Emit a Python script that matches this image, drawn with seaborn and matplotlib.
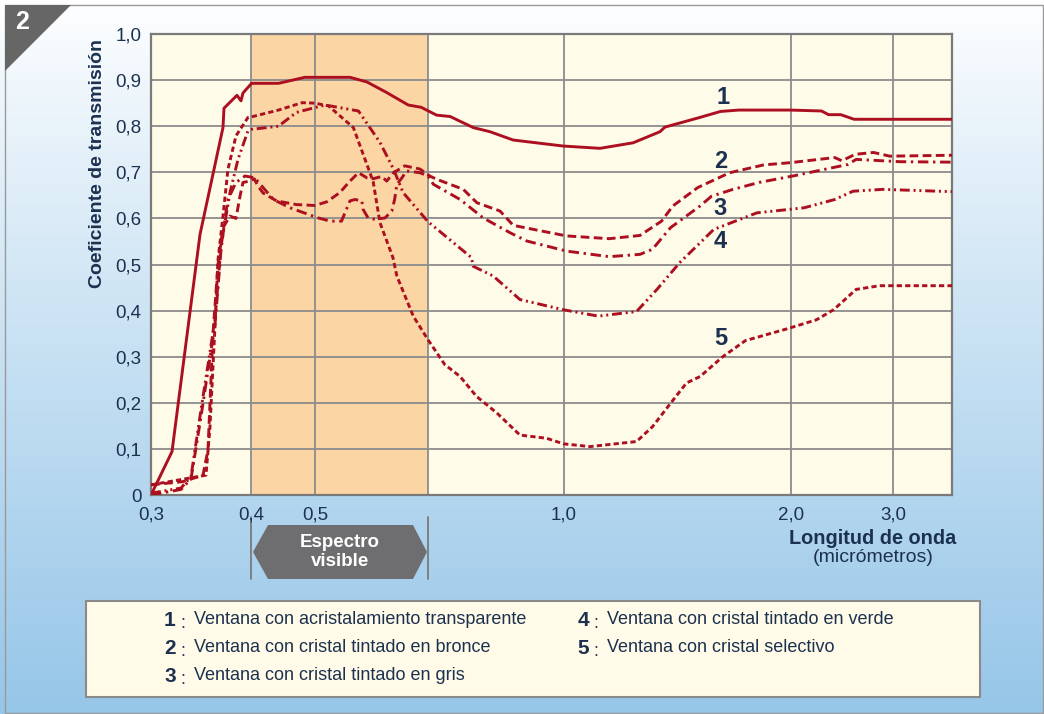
import numpy as np
import pandas as pd
import matplotlib
matplotlib.use("Agg")
import matplotlib.pyplot as plt
import seaborn as sns
from matplotlib.patches import Polygon, Rectangle

# ---- data: wavelength (micrometres) and transmission coefficient ----
wl1 = [0.30, 0.321, 0.349, 0.372, 0.373, 0.386, 0.390, 0.392, 0.401, 0.443, 0.484,
       0.562, 0.592, 0.627, 0.665, 0.688, 0.719, 0.749, 0.80, 0.837, 0.888, 0.998,
       1.159, 1.305, 1.423, 1.445, 1.599, 1.69, 1.77, 1.996, 2.30, 2.37, 2.49, 2.62, 3.58]
t1 = [0.0, 0.094, 0.565, 0.797, 0.839, 0.867, 0.855, 0.872, 0.893, 0.893, 0.906,
      0.906, 0.896, 0.873, 0.846, 0.841, 0.824, 0.821, 0.797, 0.788, 0.770, 0.757,
      0.752, 0.764, 0.788, 0.798, 0.819, 0.832, 0.835, 0.835, 0.833, 0.825, 0.825, 0.815, 0.815]

wl2 = [0.30, 0.332, 0.352, 0.357, 0.362, 0.367, 0.372, 0.379, 0.385, 0.389, 0.392,
       0.399, 0.405, 0.411, 0.419, 0.440, 0.471, 0.50, 0.521, 0.544, 0.562, 0.577,
       0.592, 0.603, 0.618, 0.627, 0.639, 0.659, 0.686, 0.704, 0.719, 0.778, 0.808,
       0.859, 0.888, 0.954, 1.012, 1.20, 1.335, 1.43, 1.48, 1.59, 1.73, 1.88, 2.0,
       2.43, 2.50, 2.63, 2.81, 2.97, 3.58]
t2 = [0.022, 0.029, 0.043, 0.098, 0.35, 0.50, 0.58, 0.605, 0.60, 0.648, 0.678,
      0.681, 0.686, 0.670, 0.655, 0.638, 0.630, 0.628, 0.636, 0.656, 0.681, 0.699,
      0.688, 0.686, 0.691, 0.681, 0.699, 0.714, 0.707, 0.692, 0.685, 0.663, 0.634,
      0.616, 0.585, 0.572, 0.562, 0.556, 0.563, 0.594, 0.627, 0.667, 0.699, 0.716, 0.721,
      0.732, 0.725, 0.739, 0.743, 0.735, 0.737]

wl3 = [0.30, 0.33, 0.34, 0.35, 0.364, 0.37, 0.374, 0.377, 0.385, 0.394, 0.406,
       0.417, 0.435, 0.461, 0.489, 0.506, 0.527, 0.547, 0.553, 0.562, 0.571, 0.583,
       0.585, 0.594, 0.606, 0.624, 0.636, 0.641, 0.645, 0.654, 0.662, 0.686, 0.70,
       0.712, 0.771, 0.822, 0.881, 0.918, 1.012, 1.20, 1.335, 1.39, 1.47, 1.60, 1.65,
       1.745, 1.86, 2.02, 2.56, 2.64, 3.07, 3.58]
t3 = [0.0, 0.012, 0.035, 0.17, 0.37, 0.53, 0.60, 0.641, 0.678, 0.692, 0.688,
      0.670, 0.641, 0.623, 0.609, 0.601, 0.594, 0.594, 0.612, 0.638, 0.641, 0.638,
      0.620, 0.601, 0.598, 0.601, 0.616, 0.641, 0.674, 0.688, 0.703, 0.699, 0.692,
      0.674, 0.641, 0.601, 0.569, 0.551, 0.529, 0.517, 0.522, 0.533, 0.58, 0.627, 0.648,
      0.663, 0.678, 0.692, 0.717, 0.728, 0.723, 0.722]

wl4 = [0.30, 0.33, 0.34, 0.35, 0.364, 0.37, 0.379, 0.387, 0.397, 0.40, 0.443, 0.471,
       0.518, 0.577, 0.615, 0.639, 0.656, 0.70, 0.796, 0.80, 0.844, 0.903, 0.998,
       1.152, 1.32, 1.41, 1.51, 1.60, 1.66, 1.85, 2.13, 2.43, 2.61, 2.90, 3.58]
t4 = [0.004, 0.015, 0.04, 0.185, 0.38, 0.54, 0.656, 0.728, 0.79, 0.793, 0.80, 0.83,
      0.846, 0.833, 0.765, 0.707, 0.656, 0.593, 0.515, 0.496, 0.475, 0.424, 0.402,
      0.388, 0.398, 0.446, 0.504, 0.547, 0.576, 0.612, 0.623, 0.641, 0.659, 0.663, 0.658]

wl5 = [0.30, 0.355, 0.359, 0.364, 0.367, 0.372, 0.377, 0.385, 0.397, 0.40, 0.443,
       0.48, 0.50, 0.524, 0.568, 0.603, 0.615, 0.638, 0.645, 0.674, 0.70, 0.737,
       0.771, 0.807, 0.852, 0.903, 0.962, 0.999, 1.115, 1.32, 1.39, 1.47, 1.54, 1.60,
       1.70, 1.80, 1.98, 2.25, 2.42, 2.64, 2.87, 3.58]
t5 = [0.022, 0.043, 0.148, 0.366, 0.51, 0.605, 0.707, 0.779, 0.819, 0.82, 0.835,
      0.851, 0.85, 0.844, 0.797, 0.68, 0.591, 0.515, 0.475, 0.388, 0.337, 0.283,
      0.257, 0.214, 0.178, 0.13, 0.123, 0.111, 0.105, 0.116, 0.148, 0.199, 0.243, 0.257,
      0.30, 0.335, 0.36, 0.38, 0.402, 0.446, 0.454, 0.454]

curve_ids = ["1", "2", "3", "4", "5"]
curve_names = [
    "Ventana con acristalamiento transparente",
    "Ventana con cristal tintado en bronce",
    "Ventana con cristal tintado en gris",
    "Ventana con cristal tintado en verde",
    "Ventana con cristal selectivo",
]
x_ticks = [0.3, 0.4, 0.5, 1.0, 2.0, 3.0]
x_tick_labels = ["0,3", "0,4", "0,5", "1,0", "2,0", "3,0"]
y_ticks = [0, 0.1, 0.2, 0.3, 0.4, 0.5, 0.6, 0.7, 0.8, 0.9, 1.0]
y_tick_labels = ["0", "0,1", "0,2", "0,3", "0,4", "0,5", "0,6", "0,7", "0,8", "0,9", "1,0"]
visible_band = (0.4, 0.7)

# ---- styles ----
W, H = 1044, 714
RED = "#ac1020"
NAVY = "#1c3150"
GRID = "#8c8c8c"
dash_styles = {
    "1": "-",
    "2": (0, (3.0, 1.5)),
    "3": (0, (3.6, 1.6, 0.8, 1.6)),
    "4": (0, (3.4, 1.3, 0.7, 1.3, 0.7, 1.3)),
    "5": (0, (1.8, 1.1)),
}

sns.set_theme(style="white")
plt.rcParams["font.family"] = ["Liberation Sans", "DejaVu Sans"]

fig = plt.figure(figsize=(W / 100, H / 100), dpi=100)


def fx(px):
    return px / W


def fy(py):
    return 1 - py / H


# background gradient (white at top to light blue at bottom)
bg = fig.add_axes([0, 0, 1, 1], zorder=-10)
grad = np.linspace(0, 1, 256)[:, None]
top = np.array([1.0, 1.0, 1.0])
bot = np.array([0x96, 0xc6, 0xe8]) / 255
img = top + (bot - top) * grad[..., None] ** 0.9
bg.imshow(img, aspect="auto", extent=[0, 1, 0, 1], origin="upper")
bg.set_xlim(0, 1)
bg.set_ylim(0, 1)
bg.axis("off")
bg.add_patch(Rectangle((fx(5), fy(713)), fx(1038), fy(5) - fy(713),
                       fill=False, ec="#9a9a9a", lw=1.0))
bg.add_patch(Polygon([(fx(5), fy(5)), (fx(71), fy(5)), (fx(5), fy(71))],
                     closed=True, fc="#666666", ec="none"))
bg.text(fx(22), fy(22), "2", color="white", fontsize=18, fontweight="bold",
        ha="center", va="center")

# piecewise axis mapping for wavelength
anchor_val = [0.0, 0.3, 0.4, 0.5, 0.7, 1.0, 2.0, 3.0, 10.0]
anchor_pos = [-149.0, 151.0, 251.0, 315.0, 428.0, 564.0, 791.0, 893.0, 1607.0]


def fwd(x):
    return np.interp(x, anchor_val, anchor_pos)


def inv(p):
    return np.interp(p, anchor_pos, anchor_val)


ax = fig.add_axes([fx(151), fy(495), fx(952) - fx(151), fy(34) - fy(495)])
ax.set_facecolor("#fffbe9")
ax.set_xscale("function", functions=(fwd, inv))
ax.set_xlim(0.3, 3.58)
ax.set_ylim(0, 1.0)
ax.axvspan(*visible_band, color="#fbd5a4", zorder=0.2, lw=0)

series = [(wl1, t1), (wl2, t2), (wl3, t3), (wl4, t4), (wl5, t5)]
for cid, (wl, tr) in zip(curve_ids, series):
    df = pd.DataFrame({"wl": wl, "t": tr})
    sns.lineplot(data=df, x="wl", y="t", ax=ax, color=RED, lw=2.1,
                 estimator=None, sort=False, zorder=3)
    ax.lines[-1].set_linestyle(dash_styles[cid])

ax.set_xticks(x_ticks)
ax.set_xticklabels(x_tick_labels)
ax.set_xticks([visible_band[1]], minor=True)
ax.set_yticks(y_ticks)
ax.set_yticklabels(y_tick_labels)
ax.tick_params(axis="both", which="both", length=0, labelsize=13.5, labelcolor=NAVY)
ax.tick_params(axis="x", pad=8)
ax.tick_params(axis="y", pad=7)
ax.grid(True, which="both", color=GRID, lw=1.3)
ax.set_axisbelow(True)
for s in ax.spines.values():
    s.set_color("#7a7a7a")
    s.set_linewidth(1.6)
    s.set_visible(True)
ax.set_xlabel("")
ax.set_ylabel("")

# curve numbers
label_pos = {"1": (1.70, 0.863), "2": (1.69, 0.724), "3": (1.69, 0.622),
             "4": (1.69, 0.550), "5": (1.69, 0.339)}
for cid in curve_ids:
    ax.text(*label_pos[cid], cid, color=NAVY, fontsize=17, fontweight="bold",
            ha="center", va="center", zorder=5)

# axis titles
fig.text(fx(97), fy(163), "Coeficiente de transmisión", rotation=90, color=NAVY,
         fontsize=14, fontweight="bold", ha="center", va="center")
fig.text(fx(873), fy(538), "Longitud de onda", color=NAVY, fontsize=14.3,
         fontweight="bold", ha="center", va="center")
fig.text(fx(873), fy(558), "(micrómetros)", color=NAVY, fontsize=14,
         ha="center", va="center")

# visible spectrum marker
for px in (251, 428):
    bg.plot([fx(px), fx(px)], [fy(517), fy(579)], color="#7a7a7a", lw=1.3)
bg.add_patch(Polygon([(fx(253), fy(552)), (fx(268), fy(525)), (fx(413), fy(525)),
                      (fx(427), fy(552)), (fx(413), fy(579)), (fx(268), fy(579))],
                     closed=True, fc="#6e6e70", ec="none", zorder=3))
bg.text(fx(340), fy(552), "Espectro\nvisible", color="white", fontsize=13.5,
        fontweight="bold", ha="center", va="center", linespacing=1.15, zorder=4)

# key box
bg.add_patch(Rectangle((fx(86), fy(697)), fx(980) - fx(86), fy(601) - fy(697),
                       fc="#fffbe8", ec="#8a8a8a", lw=1.5, zorder=2))
rows = [(170, 620), (170, 648), (170, 676), (583, 620), (583, 648)]
for cid, name, (cx, cy) in zip(curve_ids, curve_names, rows):
    bg.text(fx(cx), fy(cy), cid, color=NAVY, fontsize=15, fontweight="bold",
            ha="center", va="center", zorder=4)
    bg.text(fx(cx + 13), fy(cy + 3), ":", color=NAVY, fontsize=13,
            ha="center", va="center", zorder=4)
    bg.text(fx(cx + 24), fy(cy), name, color=NAVY, fontsize=13,
            ha="left", va="center", zorder=4)

fig.savefig("out.png", dpi=100)
